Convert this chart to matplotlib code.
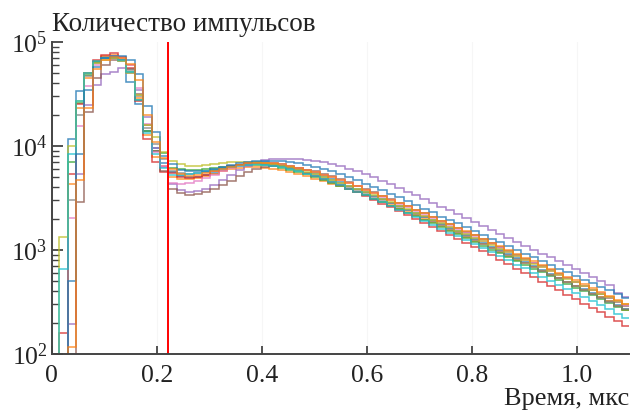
import numpy as np
import matplotlib
matplotlib.use("Agg")
import matplotlib.pyplot as plt
from matplotlib.ticker import FixedLocator, FuncFormatter, LogLocator, NullFormatter

plt.rcParams['font.family'] = ['Liberation Serif', 'DejaVu Serif']
plt.rcParams['mathtext.fontset'] = 'custom'
plt.rcParams['mathtext.rm'] = 'Liberation Serif'
plt.rcParams['mathtext.it'] = 'Liberation Serif:italic'

# границы бинов гистограммы, мкс
edges = 0.014 + 0.016 * np.arange(69)
cut_time = 0.222

# число импульсов в бинах для каждого измерения
blue1 = [60, 11600, 34000, 50000, 65000, 72000, 73000, 66000, 41000, 25500, 14000, 9500, 6900,
         5590, 5200, 5000, 5050, 5250, 5550, 5900, 6250, 6550, 6800, 6950, 7000, 6900, 6700, 6450, 6150,
         5850, 5500, 5150, 4800, 4480, 4170, 3870, 3590, 3330, 3090, 2860, 2650, 2450, 2260, 2090, 1930,
         1780, 1640, 1510, 1390, 1280, 1175, 1080, 990, 910, 835, 765, 702, 644, 590, 541, 496, 455, 417,
         382, 350, 321, 294, 270]
orange1 = [50, 4290, 23000, 45400, 66000, 74000, 75000, 70000, 60000, 29000, 12900, 7800, 6500,
           5000, 4800, 4800, 4900, 5100, 5400, 5700, 6000, 6200, 6300, 6300, 6200, 6050, 5850, 5600, 5350,
           5100, 4850, 4600, 4350, 4100, 3850, 3600, 3350, 3120, 2900, 2700, 2500, 2320, 2150, 1990, 1840,
           1700, 1570, 1450, 1340, 1230, 1130, 1040, 960, 880, 810, 745, 685, 630, 580, 535, 490, 450, 415,
           380, 350, 320, 292, 266]
green = [50, 7000, 26000, 48000, 64000, 70000, 71000, 67000, 52000, 28000, 14000, 9000, 8600,
         6200, 6000, 5900, 5900, 6000, 6150, 6300, 6450, 6550, 6600, 6600, 6550, 6400, 6200, 5950, 5650,
         5350, 5050, 4750, 4450, 4150, 3870, 3600, 3350, 3110, 2880, 2670, 2470, 2280, 2110, 1950, 1800,
         1660, 1530, 1410, 1300, 1195, 1100, 1010, 930, 855, 785, 722, 663, 610, 560, 515, 473, 435, 400,
         368, 338, 310, 285, 262]
red = [160, 5350, 25200, 50700, 68000, 76000, 78000, 72000, 56000, 27000, 11600, 7000, 5600,
       5500, 5000, 4900, 5000, 5300, 5700, 6100, 6400, 6600, 6800, 6900, 6850, 6700, 6450, 6200, 5900,
       5550, 5200, 4850, 4500, 4200, 3900, 3600, 3300, 3050, 2800, 2580, 2370, 2170, 1990, 1820, 1670,
       1530, 1400, 1280, 1170, 1070, 980, 895, 800, 730, 660, 600, 545, 495, 450, 410, 370, 335, 305,
       278, 252, 228, 207, 185]
purple = [40, 192, 5350, 25000, 38600, 49000, 52000, 56000, 50000, 35000, 18900, 9500, 6300,
          4300, 3750, 3650, 3700, 3850, 4200, 4700, 5300, 5900, 6400, 6900, 7300, 7500, 7550, 7500, 7450,
          7350, 7200, 6950, 6700, 6400, 6050, 5700, 5350, 5000, 4650, 4300, 3950, 3650, 3350, 3100, 2850,
          2600, 2400, 2200, 2020, 1850, 1700, 1560, 1430, 1310, 1200, 1100, 1010, 920, 850, 780, 715, 655,
          600, 550, 500, 460, 390, 350]
brown = [40, 60, 2900, 21500, 45000, 60000, 68000, 67000, 55000, 32000, 16000, 9000, 5800,
         3860, 3500, 3400, 3450, 3600, 3850, 4200, 4650, 5100, 5600, 6000, 6300, 6450, 6450, 6350, 6200,
         5950, 5700, 5400, 5100, 4780, 4470, 4160, 3860, 3580, 3320, 3070, 2840, 2630, 2430, 2250, 2080,
         1920, 1770, 1630, 1500, 1380, 1270, 1165, 1070, 980, 900, 825, 757, 695, 637, 584, 535, 490, 449,
         411, 377, 345, 316, 290]
pink = [40, 2020, 15700, 38000, 60000, 70000, 73000, 71000, 60000, 35900, 16200, 8800, 6500,
        4440, 4300, 4400, 4600, 4900, 5300, 5700, 6100, 6400, 6650, 6800, 6850, 6800, 6650, 6450, 6200,
        5900, 5600, 5300, 5000, 4700, 4400, 4100, 3800, 3520, 3260, 3010, 2780, 2570, 2370, 2190, 2020,
        1860, 1710, 1580, 1450, 1340, 1230, 1130, 1040, 955, 880, 810, 745, 685, 630, 580, 535, 490, 452,
        415, 382, 350, 322, 294]
gray = [40, 3000, 20000, 47000, 63000, 70000, 71000, 68000, 54000, 30000, 15000, 10400, 7500,
        5800, 5500, 5400, 5500, 5650, 5900, 6150, 6400, 6600, 6750, 6800, 6750, 6600, 6400, 6150, 5850,
        5550, 5250, 4950, 4650, 4350, 4060, 3780, 3510, 3260, 3030, 2810, 2600, 2410, 2230, 2060, 1900,
        1750, 1610, 1480, 1360, 1250, 1150, 1055, 970, 890, 818, 750, 690, 633, 580, 532, 488, 448, 411,
        377, 346, 318, 292, 268]
olive = [1330, 10000, 27000, 50000, 63000, 68000, 70000, 66000, 50000, 31000, 16000, 12300, 8700,
         7200, 6700, 6500, 6500, 6600, 6700, 6850, 6950, 7000, 7000, 6950, 6850, 6700, 6500, 6250, 5950,
         5650, 5350, 5050, 4750, 4450, 4150, 3870, 3600, 3350, 3110, 2880, 2670, 2470, 2290, 2120, 1960,
         1810, 1670, 1540, 1420, 1310, 1210, 1115, 1030, 950, 875, 805, 740, 680, 625, 575, 530, 488, 450,
         414, 381, 350, 323, 300]
cyan = [660, 8300, 27300, 50000, 66000, 71000, 72000, 67000, 52000, 28000, 13500, 8300, 6100,
        5300, 5300, 5400, 5500, 5700, 5900, 6100, 6300, 6500, 6600, 6650, 6600, 6450, 6250, 6000, 5700,
        5400, 5100, 4800, 4500, 4200, 3900, 3620, 3350, 3100, 2870, 2650, 2440, 2250, 2070, 1900, 1750,
        1600, 1470, 1350, 1240, 1140, 1040, 950, 870, 795, 725, 665, 605, 555, 505, 462, 422, 385, 352,
        322, 294, 268, 244, 220]
blue2 = [30, 507, 8300, 35000, 58000, 70000, 74000, 73000, 68000, 49000, 24500, 13700, 7950,
         6700, 5900, 5700, 5700, 5800, 6000, 6300, 6600, 6900, 7100, 7200, 7250, 7250, 7150, 7000, 6800,
         6550, 6300, 6000, 5700, 5350, 5000, 4700, 4350, 4050, 3750, 3450, 3200, 2950, 2700, 2500, 2300,
         2100, 1950, 1800, 1650, 1520, 1400, 1290, 1190, 1090, 1000, 920, 850, 780, 720, 660, 610, 560,
         520, 480, 440, 410, 375, 345]
orange2 = [40, 117, 4700, 23000, 55000, 68000, 72000, 71000, 62000, 43000, 20000, 11000, 7700,
           6000, 5400, 5200, 5250, 5450, 5750, 6050, 6350, 6600, 6800, 6900, 6900, 6800, 6650, 6450, 6200,
           5900, 5600, 5300, 5000, 4700, 4400, 4100, 3820, 3550, 3300, 3060, 2840, 2630, 2430, 2250, 2080,
           1920, 1780, 1640, 1510, 1390, 1280, 1180, 1085, 1000, 920, 845, 778, 715, 657, 604, 555, 510,
           468, 430, 395, 362, 332, 305]

series = [blue1, orange1, green, red, purple, brown, pink, gray, olive, cyan, blue2, orange2]

fig = plt.figure(figsize=(6.32, 4.13), dpi=100)
ax = fig.add_axes([0.082, 0.143, 0.914, 0.755])

colors = plt.rcParams['axes.prop_cycle'].by_key()['color']
for i, counts in enumerate(series):
    ax.stairs(counts, edges, baseline=1, color=colors[i % 10], lw=1.1, alpha=0.8)

ax.axvline(cut_time, color='red', lw=1.4)

ax.set_yscale('log')
ax.set_xlim(0, 1.1)
ax.set_ylim(1e2, 1e5)

ax.xaxis.set_major_locator(FixedLocator([0, 0.2, 0.4, 0.6, 0.8, 1.0]))
ax.xaxis.set_major_formatter(FuncFormatter(lambda v, p: '0' if v == 0 else f'{v:.1f}'))
ax.yaxis.set_major_locator(LogLocator(base=10))
ax.yaxis.set_minor_locator(LogLocator(base=10, subs=np.arange(2, 10)))
ax.yaxis.set_minor_formatter(NullFormatter())
ax.yaxis.set_major_formatter(FuncFormatter(lambda v, p: r'$10^{%d}$' % round(np.log10(v))))

ax.grid(axis='x', color='#f6f6f6', lw=0.8)
ax.set_axisbelow(True)

for s in ['top', 'right']:
    ax.spines[s].set_visible(False)
for s in ['left', 'bottom']:
    ax.spines[s].set_color('#444444')
    ax.spines[s].set_linewidth(1.4)

ax.tick_params(axis='both', which='major', direction='in', length=6, width=1.3,
               color='#444444', labelsize=18.5, labelcolor='#222222')
ax.tick_params(axis='y', which='major', length=8)
ax.tick_params(axis='y', which='minor', direction='in', length=5, width=1.0, color='#444444')
ax.tick_params(axis='x', which='major', pad=8)
ax.tick_params(axis='y', which='major', pad=3)

fig.text(0.082, 0.925, 'Количество импульсов', ha='left', va='baseline',
         fontsize=19.5, color='#222222')
fig.text(0.995, 0.02, 'Время, мкс', ha='right', va='baseline', fontsize=19, color='#222222')

fig.savefig('out.png', dpi=100)
